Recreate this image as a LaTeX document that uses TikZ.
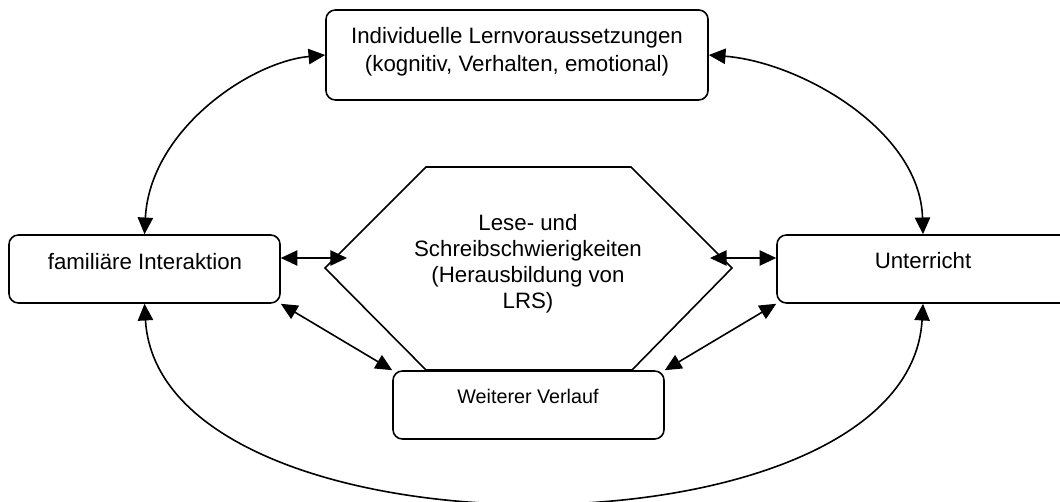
\documentclass[tikz,border=0pt]{standalone}
\usepackage{fontspec}
\setmainfont{Liberation Sans}
\usetikzlibrary{arrows.meta}
\begin{document}
\begin{tikzpicture}[x=0.75pt,y=-0.75pt,
  box/.style={draw, fill=white, line width=1.2pt, rounded corners=7pt, inner sep=0pt},
  lbl/.style={font=\fontsize{16.7}{21}\selectfont, align=center, inner sep=0pt},
  conn/.style={line width=1.2pt, {Triangle[length=12.5pt,width=11.5pt]}-{Triangle[length=12.5pt,width=11.5pt]}}]
\useasboundingbox (0,0) rectangle (1060,502);
\clip (0,0) rectangle (1060,502);
% hexagon
\draw[line width=1.2pt] (426,167) -- (631,167) -- (732,268) -- (632,370) -- (426,370) -- (325,268) -- cycle;
% boxes
\node[box, minimum width=286.5pt, minimum height=67.5pt] (top) at (517,55) {};
\node[box, minimum width=203.25pt, minimum height=51pt] (fam) at (144.5,269) {};
\node[box, minimum width=219pt, minimum height=51pt] (unt) at (923,269) {};
\node[box, minimum width=203.25pt, minimum height=51pt] (wv) at (528.5,405) {};
% texts
\node[lbl] (toptxt) at (517,52) {Individuelle Lernvoraussetzungen\\(kognitiv, Verhalten, emotional)};
\node[lbl, font=\fontsize{16.7}{19.5}\selectfont] (hex) at (528,264) {Lese- und\\Schreibschwierigkeiten\\(Herausbildung von\\LRS)};
\node[lbl] (famtxt) at (145,262) {familiäre Interaktion};
\node[lbl] (unttxt) at (923,261) {Unterricht};
\node[lbl, font=\fontsize{14.8}{18}\selectfont] (wvtxt) at (528,396) {Weiterer Verlauf};
% connectors
\coordinate (hl) at (347,258);
\coordinate (hr) at (710,258);
\draw[conn] (fam.east |- hl) -- (hl);
\draw[conn] (hr) -- (unt.west |- hr);
\draw[conn] (fam.south east) -- (wv.north west);
\draw[conn] (wv.north east) -- (unt.south west);
\draw[conn] (top.west) .. controls (250,62) and (150,130) .. (fam.north);
\draw[conn] (top.east) .. controls (800,62) and (920,130) .. (unt.north);
\draw[conn] (fam.south) .. controls (160,566) and (908,566) .. (unt.south);
\end{tikzpicture}
\end{document}
